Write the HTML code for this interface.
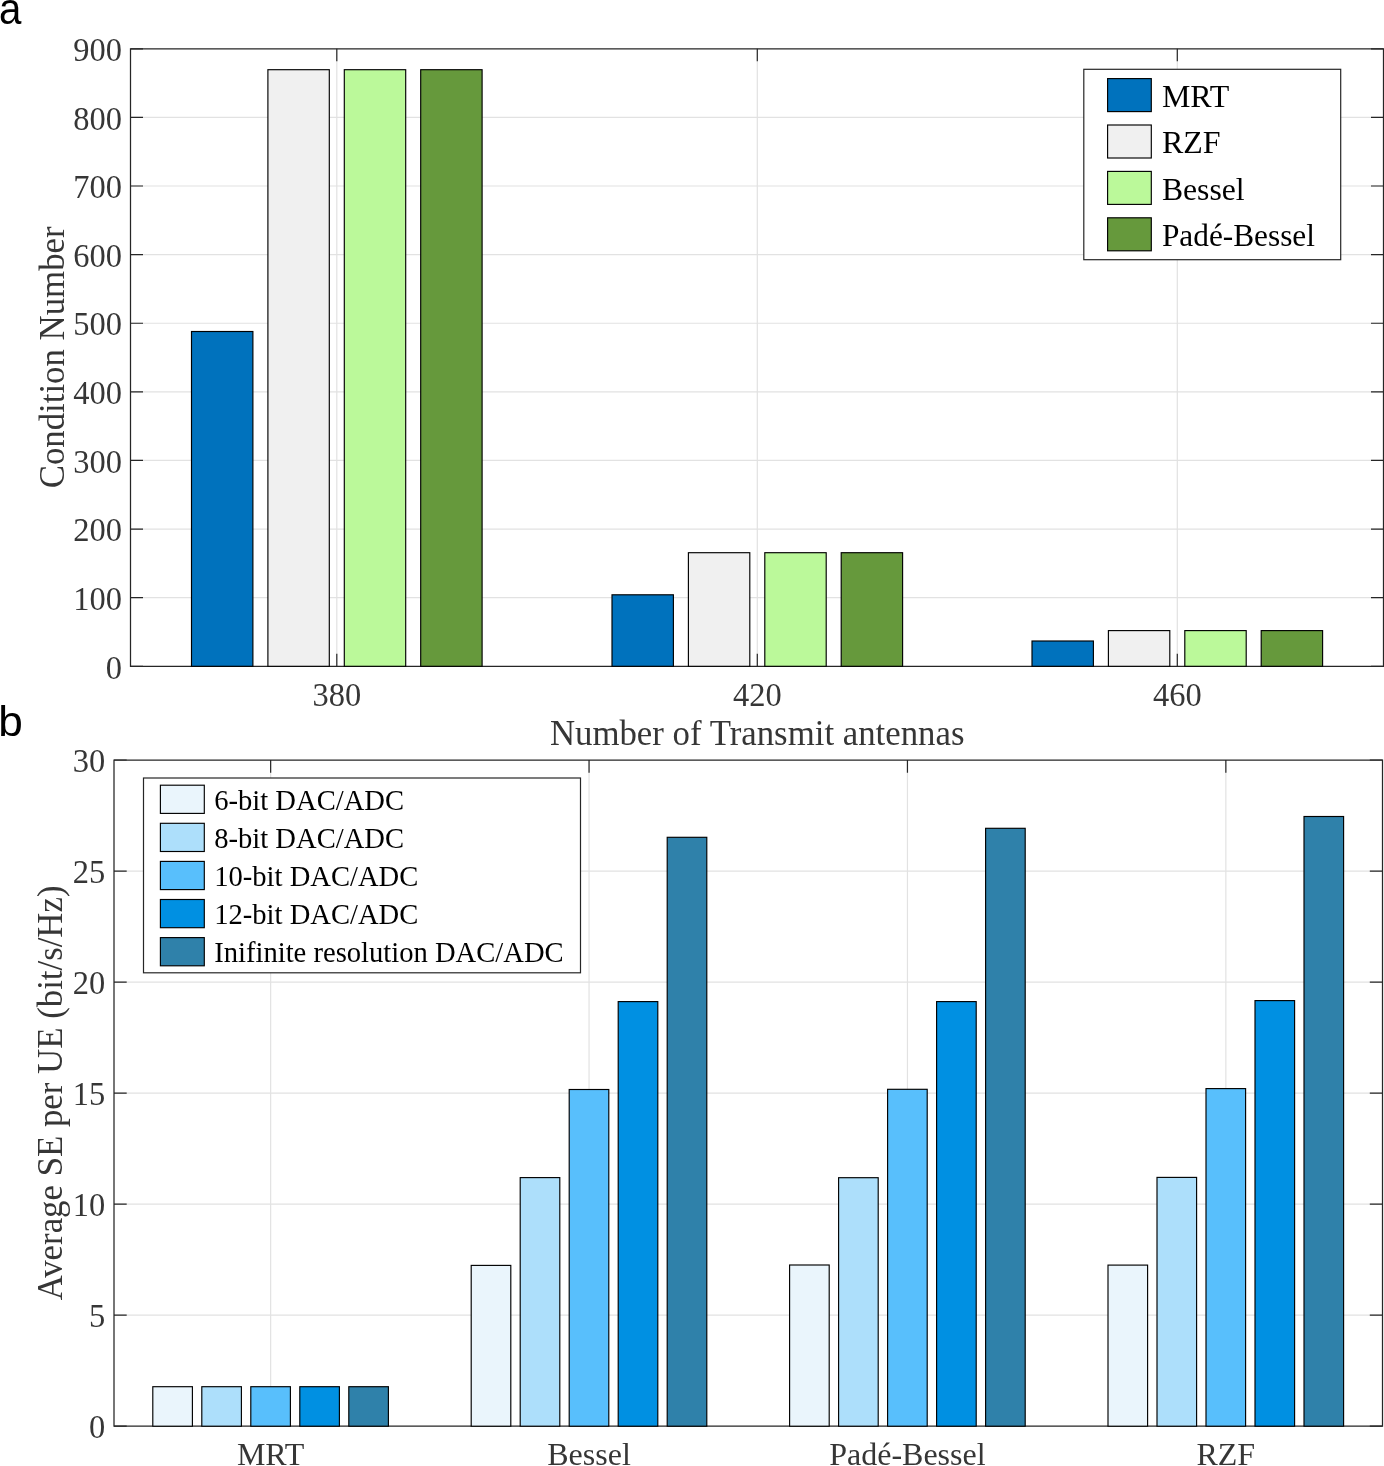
<!DOCTYPE html>
<html><head><meta charset="utf-8"><title>Chart</title>
<style>html,body{margin:0;padding:0;background:#fff;overflow:hidden;}svg{display:block;will-change:transform;}text{font-family:"Liberation Serif", serif;}</style>
</head><body>
<svg width="1384" height="1466" viewBox="0 0 1384 1466">
<rect width="1384" height="1466" fill="#fff"/>
<path d="M130.5,597.69H1383.5 M130.5,529.08H1383.5 M130.5,460.47H1383.5 M130.5,391.86H1383.5 M130.5,323.24H1383.5 M130.5,254.63H1383.5 M130.5,186.02H1383.5 M130.5,117.41H1383.5" stroke="#e2e2e2" stroke-width="1.2" fill="none"/>
<path d="M336.8,48.8V666.3 M757.3,48.8V666.3 M1177.3,48.8V666.3" stroke="#e2e2e2" stroke-width="1.2" fill="none"/>
<path d="M130.5,666.30h12.5M1383.5,666.30h-12.5 M130.5,597.69h12.5M1383.5,597.69h-12.5 M130.5,529.08h12.5M1383.5,529.08h-12.5 M130.5,460.47h12.5M1383.5,460.47h-12.5 M130.5,391.86h12.5M1383.5,391.86h-12.5 M130.5,323.24h12.5M1383.5,323.24h-12.5 M130.5,254.63h12.5M1383.5,254.63h-12.5 M130.5,186.02h12.5M1383.5,186.02h-12.5 M130.5,117.41h12.5M1383.5,117.41h-12.5 M130.5,48.80h12.5M1383.5,48.80h-12.5 M336.8,666.3v-12.5M336.8,48.8v12.5 M757.3,666.3v-12.5M757.3,48.8v12.5 M1177.3,666.3v-12.5M1177.3,48.8v12.5" stroke="#262626" stroke-width="1.2" fill="none"/>
<path d="M130.5,48.8H1383.5M130.5,666.3H1383.5M130.5,48.199999999999996V666.9M1383.5,48.199999999999996V666.9" fill="none" stroke="#262626" stroke-width="1.25"/>
<rect x="191.5" y="331.5" width="61.4" height="334.8" fill="#0072BD" stroke="#000" stroke-width="1.15"/>
<rect x="267.9" y="69.7" width="61.4" height="596.6" fill="#F0F0F0" stroke="#000" stroke-width="1.15"/>
<rect x="344.3" y="69.7" width="61.4" height="596.6" fill="#BBF99A" stroke="#000" stroke-width="1.15"/>
<rect x="420.7" y="69.7" width="61.4" height="596.6" fill="#66993C" stroke="#000" stroke-width="1.15"/>
<rect x="612.0" y="594.8" width="61.4" height="71.5" fill="#0072BD" stroke="#000" stroke-width="1.15"/>
<rect x="688.4" y="552.7" width="61.4" height="113.6" fill="#F0F0F0" stroke="#000" stroke-width="1.15"/>
<rect x="764.8" y="552.7" width="61.4" height="113.6" fill="#BBF99A" stroke="#000" stroke-width="1.15"/>
<rect x="841.2" y="552.7" width="61.4" height="113.6" fill="#66993C" stroke="#000" stroke-width="1.15"/>
<rect x="1032.0" y="641.0" width="61.4" height="25.3" fill="#0072BD" stroke="#000" stroke-width="1.15"/>
<rect x="1108.4" y="630.6" width="61.4" height="35.7" fill="#F0F0F0" stroke="#000" stroke-width="1.15"/>
<rect x="1184.8" y="630.6" width="61.4" height="35.7" fill="#BBF99A" stroke="#000" stroke-width="1.15"/>
<rect x="1261.2" y="630.6" width="61.4" height="35.7" fill="#66993C" stroke="#000" stroke-width="1.15"/>
<text transform="translate(121.9,678.5) scale(0.97,1)" text-anchor="end" font-size="33.5" fill="#363636">0</text>
<text transform="translate(121.9,609.9) scale(0.97,1)" text-anchor="end" font-size="33.5" fill="#363636">100</text>
<text transform="translate(121.9,541.3) scale(0.97,1)" text-anchor="end" font-size="33.5" fill="#363636">200</text>
<text transform="translate(121.9,472.7) scale(0.97,1)" text-anchor="end" font-size="33.5" fill="#363636">300</text>
<text transform="translate(121.9,404.1) scale(0.97,1)" text-anchor="end" font-size="33.5" fill="#363636">400</text>
<text transform="translate(121.9,335.4) scale(0.97,1)" text-anchor="end" font-size="33.5" fill="#363636">500</text>
<text transform="translate(121.9,266.8) scale(0.97,1)" text-anchor="end" font-size="33.5" fill="#363636">600</text>
<text transform="translate(121.9,198.2) scale(0.97,1)" text-anchor="end" font-size="33.5" fill="#363636">700</text>
<text transform="translate(121.9,129.6) scale(0.97,1)" text-anchor="end" font-size="33.5" fill="#363636">800</text>
<text transform="translate(121.9,61.0) scale(0.97,1)" text-anchor="end" font-size="33.5" fill="#363636">900</text>
<text transform="translate(336.8,705.8) scale(0.97,1)" text-anchor="middle" font-size="33.5" fill="#363636">380</text>
<text transform="translate(757.3,705.8) scale(0.97,1)" text-anchor="middle" font-size="33.5" fill="#363636">420</text>
<text transform="translate(1177.3,705.8) scale(0.97,1)" text-anchor="middle" font-size="33.5" fill="#363636">460</text>
<text x="757.2" y="745" text-anchor="middle" font-size="34.8" fill="#363636">Number of Transmit antennas</text>
<text transform="translate(63.5,357.35) rotate(-90)" text-anchor="middle" font-size="34.8" fill="#363636">Condition Number</text>
<rect x="1083.8" y="69.3" width="256.9" height="190.4" fill="#fff" stroke="#262626" stroke-width="1.2"/>
<rect x="1107.6" y="78.6" width="43.7" height="33" fill="#0072BD" stroke="#000" stroke-width="1.15"/>
<text transform="translate(1161.9,106.9) scale(1,1)" font-size="32" fill="#000">MRT</text>
<rect x="1107.6" y="125.0" width="43.7" height="33" fill="#F0F0F0" stroke="#000" stroke-width="1.15"/>
<text transform="translate(1161.9,153.2) scale(1,1)" font-size="32" fill="#000">RZF</text>
<rect x="1107.6" y="171.4" width="43.7" height="33" fill="#BBF99A" stroke="#000" stroke-width="1.15"/>
<text transform="translate(1161.9,199.5) scale(0.99,1)" font-size="32" fill="#000">Bessel</text>
<rect x="1107.6" y="217.8" width="43.7" height="33" fill="#66993C" stroke="#000" stroke-width="1.15"/>
<text transform="translate(1161.9,245.8) scale(0.979,1)" font-size="32" fill="#000">Padé-Bessel</text>
<text transform="translate(-1.1,24.2) scale(0.925,1)" style='font-family:"Liberation Sans", sans-serif' font-size="43.5" fill="#000">a</text>
<path d="M114.0,1315.17H1382.5 M114.0,1204.13H1382.5 M114.0,1093.10H1382.5 M114.0,982.07H1382.5 M114.0,871.03H1382.5" stroke="#e2e2e2" stroke-width="1.2" fill="none"/>
<path d="M270.65,760.0V1426.2 M589.05,760.0V1426.2 M907.45,760.0V1426.2 M1225.85,760.0V1426.2" stroke="#e2e2e2" stroke-width="1.2" fill="none"/>
<path d="M114.0,1426.20h12.7M1382.5,1426.20h-12.7 M114.0,1315.17h12.7M1382.5,1315.17h-12.7 M114.0,1204.13h12.7M1382.5,1204.13h-12.7 M114.0,1093.10h12.7M1382.5,1093.10h-12.7 M114.0,982.07h12.7M1382.5,982.07h-12.7 M114.0,871.03h12.7M1382.5,871.03h-12.7 M114.0,760.00h12.7M1382.5,760.00h-12.7 M270.65,1426.2v-12.7M270.65,760.0v12.7 M589.05,1426.2v-12.7M589.05,760.0v12.7 M907.4499999999999,1426.2v-12.7M907.4499999999999,760.0v12.7 M1225.85,1426.2v-12.7M1225.85,760.0v12.7" stroke="#262626" stroke-width="1.2" fill="none"/>
<path d="M114.0,760.0H1382.5M114.0,1426.2H1382.5M114.0,759.4V1426.8M1382.5,759.4V1426.8" fill="none" stroke="#262626" stroke-width="1.25"/>
<rect x="152.8" y="1386.7" width="39.6" height="39.5" fill="#EAF5FC" stroke="#000" stroke-width="1.15"/>
<rect x="201.8" y="1386.7" width="39.6" height="39.5" fill="#ADDFFB" stroke="#000" stroke-width="1.15"/>
<rect x="250.8" y="1386.7" width="39.6" height="39.5" fill="#58BFFC" stroke="#000" stroke-width="1.15"/>
<rect x="299.8" y="1386.7" width="39.6" height="39.5" fill="#0090E2" stroke="#000" stroke-width="1.15"/>
<rect x="348.8" y="1386.7" width="39.6" height="39.5" fill="#2F81AA" stroke="#000" stroke-width="1.15"/>
<rect x="471.2" y="1265.4" width="39.6" height="160.8" fill="#EAF5FC" stroke="#000" stroke-width="1.15"/>
<rect x="520.2" y="1177.6" width="39.6" height="248.6" fill="#ADDFFB" stroke="#000" stroke-width="1.15"/>
<rect x="569.2" y="1089.5" width="39.6" height="336.7" fill="#58BFFC" stroke="#000" stroke-width="1.15"/>
<rect x="618.2" y="1001.6" width="39.6" height="424.6" fill="#0090E2" stroke="#000" stroke-width="1.15"/>
<rect x="667.2" y="837.3" width="39.6" height="588.9" fill="#2F81AA" stroke="#000" stroke-width="1.15"/>
<rect x="789.6" y="1265.0" width="39.6" height="161.2" fill="#EAF5FC" stroke="#000" stroke-width="1.15"/>
<rect x="838.6" y="1177.7" width="39.6" height="248.5" fill="#ADDFFB" stroke="#000" stroke-width="1.15"/>
<rect x="887.6" y="1089.3" width="39.6" height="336.9" fill="#58BFFC" stroke="#000" stroke-width="1.15"/>
<rect x="936.6" y="1001.6" width="39.6" height="424.6" fill="#0090E2" stroke="#000" stroke-width="1.15"/>
<rect x="985.6" y="828.3" width="39.6" height="597.9" fill="#2F81AA" stroke="#000" stroke-width="1.15"/>
<rect x="1108.0" y="1265.1" width="39.6" height="161.1" fill="#EAF5FC" stroke="#000" stroke-width="1.15"/>
<rect x="1157.0" y="1177.4" width="39.6" height="248.8" fill="#ADDFFB" stroke="#000" stroke-width="1.15"/>
<rect x="1206.0" y="1088.6" width="39.6" height="337.6" fill="#58BFFC" stroke="#000" stroke-width="1.15"/>
<rect x="1255.0" y="1000.6" width="39.6" height="425.6" fill="#0090E2" stroke="#000" stroke-width="1.15"/>
<rect x="1304.0" y="816.5" width="39.6" height="609.7" fill="#2F81AA" stroke="#000" stroke-width="1.15"/>
<text transform="translate(105.2,1438.4) scale(0.97,1)" text-anchor="end" font-size="33.5" fill="#363636">0</text>
<text transform="translate(105.2,1327.4) scale(0.97,1)" text-anchor="end" font-size="33.5" fill="#363636">5</text>
<text transform="translate(105.2,1216.3) scale(0.97,1)" text-anchor="end" font-size="33.5" fill="#363636">10</text>
<text transform="translate(105.2,1105.3) scale(0.97,1)" text-anchor="end" font-size="33.5" fill="#363636">15</text>
<text transform="translate(105.2,994.3) scale(0.97,1)" text-anchor="end" font-size="33.5" fill="#363636">20</text>
<text transform="translate(105.2,883.2) scale(0.97,1)" text-anchor="end" font-size="33.5" fill="#363636">25</text>
<text transform="translate(105.2,772.2) scale(0.97,1)" text-anchor="end" font-size="33.5" fill="#363636">30</text>
<text x="270.6" y="1464.9" text-anchor="middle" font-size="32" fill="#363636">MRT</text>
<text x="589.0" y="1464.9" text-anchor="middle" font-size="32" fill="#363636">Bessel</text>
<text x="907.4" y="1464.9" text-anchor="middle" font-size="32" fill="#363636">Padé-Bessel</text>
<text x="1225.8" y="1464.9" text-anchor="middle" font-size="32" fill="#363636">RZF</text>
<text transform="translate(62.0,1092.9) rotate(-90)" text-anchor="middle" font-size="34.8" fill="#363636">Average SE per UE (bit/s/Hz)</text>
<rect x="143.5" y="778.0" width="437" height="194.8" fill="#fff" stroke="#262626" stroke-width="1.2"/>
<rect x="160.4" y="785.2" width="43.9" height="28.2" fill="#EAF5FC" stroke="#000" stroke-width="1.15"/>
<text x="214.2" y="809.7" font-size="28.6" fill="#000">6-bit DAC/ADC</text>
<rect x="160.4" y="823.3" width="43.9" height="28.2" fill="#ADDFFB" stroke="#000" stroke-width="1.15"/>
<text x="214.2" y="847.8" font-size="28.6" fill="#000">8-bit DAC/ADC</text>
<rect x="160.4" y="861.4" width="43.9" height="28.2" fill="#58BFFC" stroke="#000" stroke-width="1.15"/>
<text x="214.2" y="885.9" font-size="28.6" fill="#000">10-bit DAC/ADC</text>
<rect x="160.4" y="899.5" width="43.9" height="28.2" fill="#0090E2" stroke="#000" stroke-width="1.15"/>
<text x="214.2" y="924.0" font-size="28.6" fill="#000">12-bit DAC/ADC</text>
<rect x="160.4" y="937.6" width="43.9" height="28.2" fill="#2F81AA" stroke="#000" stroke-width="1.15"/>
<text x="214.2" y="962.1" font-size="28.6" fill="#000">Inifinite resolution DAC/ADC</text>
<text transform="translate(-1.7,736.0) scale(1.05,1)" style='font-family:"Liberation Sans", sans-serif' font-size="42" fill="#000">b</text>
</svg>
</body></html>
